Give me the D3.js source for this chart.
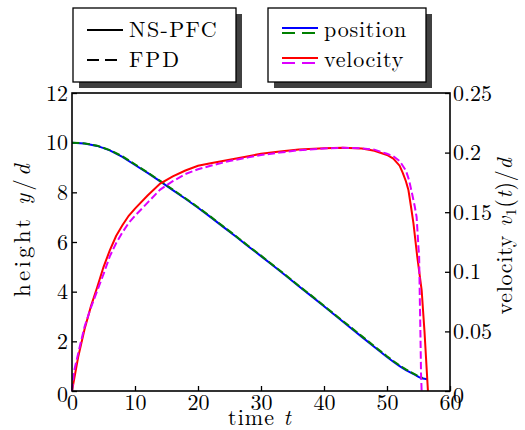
<!DOCTYPE html>
<html>
<head>
<meta charset="utf-8">
<script src="https://cdn.jsdelivr.net/npm/d3@7"></script>
<style>
  body { margin: 0; background: #fff; }
</style>
</head>
<body>
<div id="chart"></div>
<script>
// position y/d (left axis) - NS-PFC solid, FPD dashed
var posTimeNS = [0, 2, 4, 6, 8, 10, 12, 14, 16, 18, 20, 22, 24, 26, 28, 30, 32, 34, 36, 38, 40,
  42, 44, 46, 48, 50, 51, 52, 53, 54, 54.4, 55, 55.5, 56.4];
var posNS = [10, 9.97, 9.87, 9.69, 9.43, 9.10, 8.78, 8.44, 8.09, 7.74, 7.38, 7.00, 6.61, 6.22, 5.82, 5.43, 5.03, 4.63, 4.22, 3.82, 3.41,
  3.00, 2.59, 2.18, 1.77, 1.37, 1.18, 1.00, 0.84, 0.71, 0.66, 0.57, 0.51, 0.47];
var posTimeFPD = [0, 2, 4, 6, 8, 10, 12, 14, 16, 18, 20, 22, 24, 26, 28, 30, 32, 34, 36, 38, 40,
  42, 44, 46, 48, 50, 51, 52, 53, 54, 55, 55.7];
var posFPD = [10, 9.97, 9.88, 9.70, 9.45, 9.13, 8.80, 8.46, 8.11, 7.76, 7.40, 7.02, 6.63, 6.24, 5.84, 5.45, 5.05, 4.65, 4.24, 3.84, 3.43,
  3.02, 2.62, 2.21, 1.80, 1.40, 1.21, 1.03, 0.87, 0.73, 0.59, 0.52];

// velocity v1(t)/d (right axis)
var velTimeNS = [0, 1, 2, 3, 4, 5, 6, 7, 8, 9, 10, 12, 14, 16, 18, 20, 22, 25, 28, 30, 33, 36, 40, 43, 46, 48,
  50, 51, 52, 52.5, 53, 53.4, 53.8, 54.2, 54.8, 55.5, 55.95, 56.5];
var velNS = [0, 0.029, 0.052, 0.071, 0.087, 0.104, 0.118, 0.130, 0.139, 0.147, 0.153, 0.164, 0.174, 0.180, 0.185, 0.189, 0.191, 0.194, 0.197, 0.199, 0.201, 0.2025, 0.2036, 0.204, 0.2035, 0.2015,
  0.198, 0.195, 0.189, 0.183, 0.176, 0.1686, 0.155, 0.1407, 0.1127, 0.0847, 0.05, 0];
var velTimeFPD = [0, 0.3, 1, 2, 3, 4, 5, 6, 7, 8, 9, 10, 12, 14, 16, 18, 20, 22, 25, 28, 30, 33, 36, 40, 43, 46, 48,
  50, 51, 52, 52.5, 53, 53.5, 54, 54.4, 54.7, 55.0, 55.1, 55.2, 55.3, 55.4, 55.5];
var velFPD = [0, 0.016, 0.032, 0.054, 0.070, 0.084, 0.098, 0.113, 0.124, 0.133, 0.141, 0.147, 0.158, 0.169, 0.176, 0.182, 0.186, 0.189, 0.193, 0.196, 0.198, 0.200, 0.202, 0.2035, 0.204, 0.2035, 0.2025,
  0.199, 0.197, 0.193, 0.189, 0.185, 0.177, 0.165, 0.155, 0.146, 0.12, 0.113, 0.08, 0.05, 0.015, 0];

var xTicks = [0, 10, 20, 30, 40, 50, 60];
var leftTicks = [0, 2, 4, 6, 8, 10, 12];
var rightTicks = [0, 0.05, 0.1, 0.15, 0.2, 0.25];

var width = 525, height = 430;
var margin = {top: 93, right: 75, bottom: 39, left: 72};
var plotW = width - margin.left - margin.right;
var plotH = height - margin.top - margin.bottom;

var font = "Latin Modern Roman";
var tickSize = 22, labelSize = 22;
var dashes = "7.4,3.2";

var xScale = d3.scaleLinear().domain([0, 60]).range([0, plotW]);
var yLeft = d3.scaleLinear().domain([0, 12]).range([plotH, 0]);
var yRight = d3.scaleLinear().domain([0, 0.25]).range([plotH, 0]);

var svg = d3.select("#chart").append("svg")
  .attr("width", width)
  .attr("height", height);

var g = svg.append("g")
  .attr("transform", "translate(" + margin.left + "," + margin.top + ")");

// axes, ticks pointing inward
var xAxis = d3.axisBottom(xScale).tickValues(xTicks).tickSizeInner(-5).tickSizeOuter(0).tickPadding(3.5);
var leftAxis = d3.axisLeft(yLeft).tickValues(leftTicks).tickSizeInner(-5).tickSizeOuter(0).tickPadding(4);
var rightAxis = d3.axisRight(yRight).tickValues(rightTicks).tickSizeInner(-5).tickSizeOuter(0).tickPadding(3)
  .tickFormat(d3.format("~g"));

function styleAxis(sel) {
  sel.attr("font-family", font);
  sel.select(".domain").remove();
  sel.selectAll(".tick line").attr("stroke", "#000").attr("stroke-width", 1.3);
  sel.selectAll(".tick text")
    .attr("font-family", font)
    .attr("font-size", tickSize)
    .style("font-family", font)
    .style("font-size", tickSize + "px")
    .attr("fill", "#000");
}

g.append("g").attr("class", "x axis")
  .attr("transform", "translate(0," + plotH + ")")
  .call(xAxis).call(styleAxis);

g.append("g").attr("class", "y axis")
  .call(leftAxis).call(styleAxis);

g.append("g").attr("class", "y2 axis")
  .attr("transform", "translate(" + plotW + ",0)")
  .call(rightAxis).call(styleAxis);

// the zero labels sit a little low, as in the original
g.select(".y.axis").selectAll(".tick text").filter(function(d) { return d === 0; }).attr("y", 3);
g.select(".y2.axis").selectAll(".tick text").filter(function(d) { return d === 0; }).attr("y", 4);

// curves
var posLine = function(times) {
  return d3.line()
    .x(function(d, i) { return xScale(times[i]); })
    .y(function(d) { return yLeft(d); });
};
var velLine = function(times) {
  return d3.line()
    .x(function(d, i) { return xScale(times[i]); })
    .y(function(d) { return yRight(d); });
};

var curves = [
  {data: posNS, line: posLine(posTimeNS), color: "#0000ff", dash: null},
  {data: posFPD, line: posLine(posTimeFPD), color: "#008000", dash: dashes},
  {data: velNS, line: velLine(velTimeNS), color: "#ff0000", dash: null},
  {data: velFPD, line: velLine(velTimeFPD), color: "#dd00ff", dash: dashes}
];

g.append("g").attr("class", "curves")
  .selectAll("path")
  .data(curves)
  .enter().append("path")
    .attr("d", function(d) { return d.line(d.data); })
    .attr("fill", "none")
    .attr("stroke", function(d) { return d.color; })
    .attr("stroke-width", 2)
    .attr("stroke-dasharray", function(d) { return d.dash; });

// frame
g.append("rect")
  .attr("width", plotW)
  .attr("height", plotH)
  .attr("fill", "none")
  .attr("stroke", "#000")
  .attr("stroke-width", 1.6);

// text helper: spreads letters so the string spans the target width
function addText(parent, size, target) {
  var t = parent.append("text")
    .attr("font-family", font)
    .attr("font-size", size)
    .style("font-family", font)
    .style("font-size", size + "px")
    .attr("fill", "#000");
  t.fit = function() {
    var n = t.text().length;
    var w = t.node().getComputedTextLength();
    if (n > 1) t.attr("letter-spacing", ((target - w) / n).toFixed(2));
    return t;
  };
  return t;
}

// axis titles
var xTitle = addText(svg, labelSize, 64)
  .attr("x", 260)
  .attr("y", 425)
  .attr("text-anchor", "middle");
xTitle.append("tspan").text("time ");
xTitle.append("tspan").style("font-style", "italic").text("t");
xTitle.fit();

var yTitle = addText(svg, 23, 136)
  .attr("transform", "translate(30,229) rotate(-90)")
  .attr("text-anchor", "middle");
yTitle.append("tspan").text("height ");
yTitle.append("tspan").style("font-style", "italic").text("y");
yTitle.append("tspan").text("/");
yTitle.append("tspan").style("font-style", "italic").text("d");
yTitle.fit();

var y2Title = addText(svg, labelSize, 157)
  .attr("transform", "translate(512,236) rotate(-90)")
  .attr("text-anchor", "middle");
y2Title.append("tspan").text("velocity ");
y2Title.append("tspan").style("font-style", "italic").text("v");
y2Title.append("tspan").attr("dy", 4).style("font-size", "15px").text("1");
y2Title.append("tspan").attr("dy", -4).text("(");
y2Title.append("tspan").style("font-style", "italic").text("t");
y2Title.append("tspan").text(")/");
y2Title.append("tspan").style("font-style", "italic").text("d");
y2Title.fit();

// legends with drop shadow
var legends = [
  {x: 73, y: 8, w: 163, h: 74, items: [
    {label: "NS-PFC", span: 89, lines: [{color: "#000", dash: null, dy: 0}]},
    {label: "FPD", span: 52, lines: [{color: "#000", dash: "12,6", dy: 0}]}
  ]},
  {x: 268, y: 8, w: 158, h: 74, items: [
    {label: "position", span: 83, lines: [{color: "#0000ff", dash: null, dy: -2}, {color: "#008000", dash: "13,7", dy: 3}]},
    {label: "velocity", span: 80, lines: [{color: "#ff0000", dash: null, dy: -2}, {color: "#dd00ff", dash: "13,7", dy: 3}]}
  ]}
];

legends.forEach(function(lg) {
  var lgG = svg.append("g").attr("transform", "translate(" + lg.x + "," + lg.y + ")");
  lgG.append("rect")
    .attr("x", 6).attr("y", 6)
    .attr("width", lg.w).attr("height", lg.h)
    .attr("fill", "#404040");
  lgG.append("rect")
    .attr("width", lg.w).attr("height", lg.h)
    .attr("fill", "#fff")
    .attr("stroke", "#000")
    .attr("stroke-width", 1.3);
  lg.items.forEach(function(item, i) {
    var cy = 22 + i * 30;
    item.lines.forEach(function(l) {
      lgG.append("line")
        .attr("x1", 14).attr("x2", 50)
        .attr("y1", cy + l.dy).attr("y2", cy + l.dy)
        .attr("stroke", l.color)
        .attr("stroke-width", 2)
        .attr("stroke-dasharray", l.dash);
    });
    addText(lgG, labelSize, item.span)
      .attr("x", 56)
      .attr("y", cy + 7)
      .text(item.label)
      .fit();
  });
});
</script>
</body>
</html>
